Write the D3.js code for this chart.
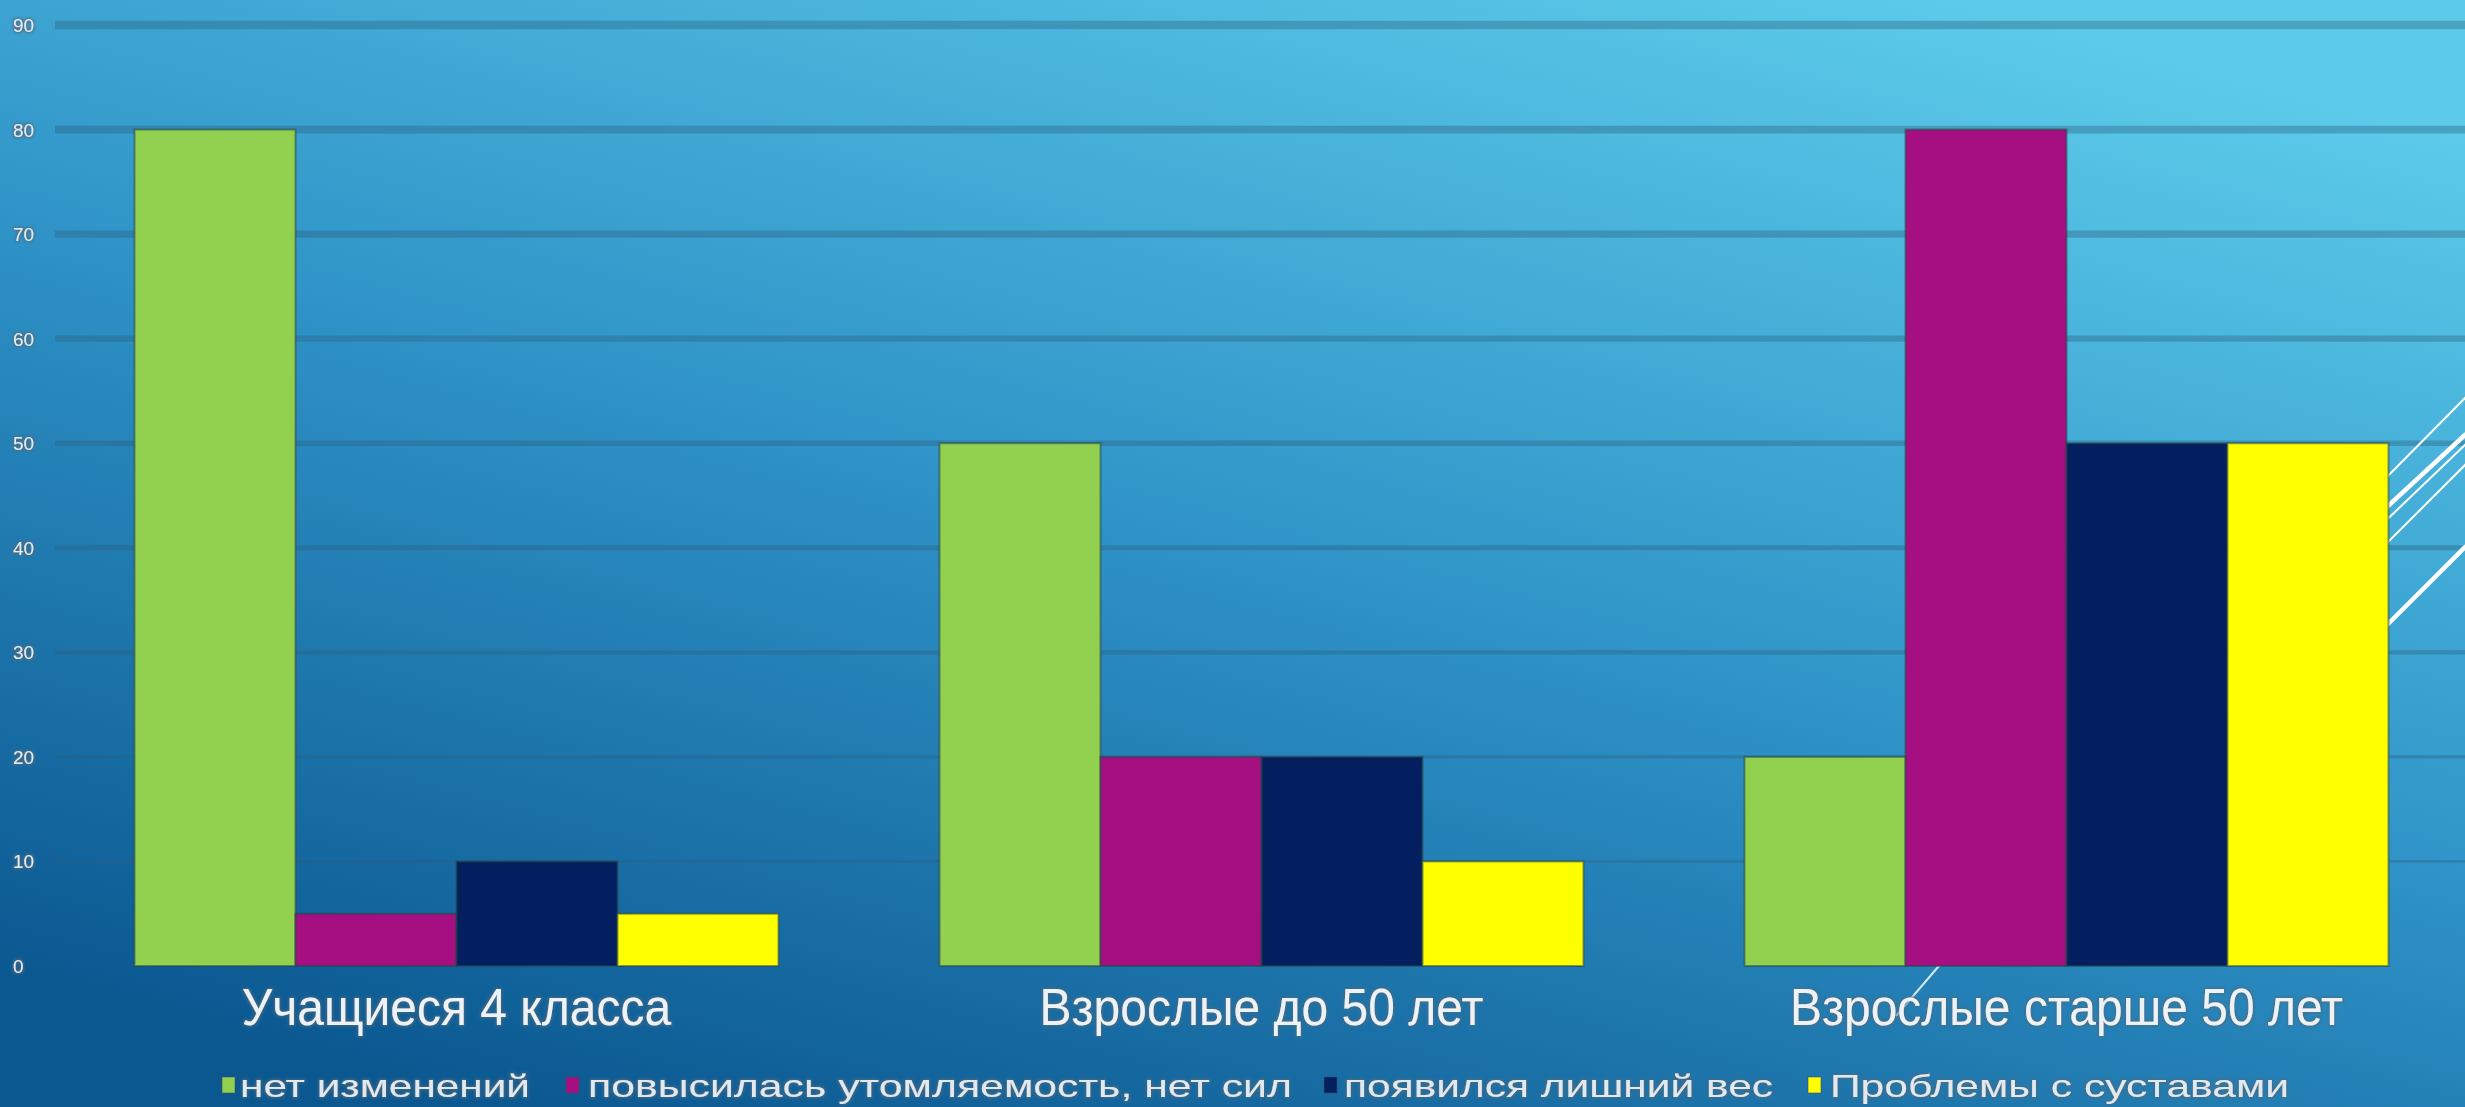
<!DOCTYPE html>
<html>
<head>
<meta charset="utf-8">
<script src="https://cdn.jsdelivr.net/npm/d3@7"></script>
<style>
  html, body { margin: 0; padding: 0; background: #2a8cc0; overflow: hidden; }
  svg { display: block; }
</style>
</head>
<body>
<svg id="chart" width="2465" height="1107"></svg>
<script>
// Survey groups and answer options
const categories = ["Учащиеся 4 класса", "Взрослые до 50 лет", "Взрослые старше 50 лет"];
const seriesNames = ["нет изменений", "повысилась утомляемость, нет сил", "появился лишний вес", "Проблемы с суставами"];

// Share of answers per group, %
const noChange = [80, 50, 20];
const fatigue  = [5, 20, 80];
const extraWeight = [10, 20, 50];
const jointIssues = [5, 10, 50];

const yTicks = [0, 10, 20, 30, 40, 50, 60, 70, 80, 90];
const seriesColors = ["#92d050", "#a50f82", "#041f5f", "#ffff00"];

const seriesValues = [noChange, fatigue, extraWeight, jointIssues];

const W = 2465, H = 1107;
const svg = d3.select("#chart");
const defs = svg.append("defs");

// slide background: dark blue bottom-left to light cyan top-right
const bg = defs.append("linearGradient").attr("id", "bg")
  .attr("x1", 0.2).attr("y1", 1).attr("x2", 0.8).attr("y2", 0);
bg.append("stop").attr("offset", 0).attr("stop-color", "#0b5891");
bg.append("stop").attr("offset", 0.5).attr("stop-color", "#2f93c7");
bg.append("stop").attr("offset", 1).attr("stop-color", "#5ccbea");

// soft grey halo behind the light text
const glow = defs.append("filter").attr("id", "glow")
  .attr("x", "-10%").attr("y", "-30%").attr("width", "120%").attr("height", "160%");
glow.append("feMorphology").attr("in", "SourceAlpha").attr("operator", "dilate").attr("radius", 1.2).attr("result", "d");
glow.append("feGaussianBlur").attr("in", "d").attr("stdDeviation", 1.4).attr("result", "b");
glow.append("feFlood").attr("flood-color", "#4d6a80").attr("flood-opacity", 0.85);
glow.append("feComposite").attr("in2", "b").attr("operator", "in").attr("result", "halo");
const gm = glow.append("feMerge");
gm.append("feMergeNode").attr("in", "halo");
gm.append("feMergeNode").attr("in", "SourceGraphic");

svg.append("rect").attr("width", W).attr("height", H).attr("fill", "url(#bg)");

// scales
const x0 = d3.scaleBand().domain(categories).range([54, 2469])
  .paddingInner(0.2).paddingOuter(0.1);
const x1 = d3.scaleBand().domain(d3.range(seriesNames.length)).range([0, x0.bandwidth()]);
const y = d3.scaleLinear().domain([0, 90]).range([966, 25]);

// horizontal gridlines
svg.append("g").selectAll("line")
  .data(yTicks.filter(d => d > 0))
  .join("line")
  .attr("x1", 55).attr("x2", W)
  .attr("y1", d => y(d)).attr("y2", d => y(d))
  .attr("stroke", "rgb(45,95,125)")
  .attr("stroke-opacity", 0.38)
  .attr("stroke-width", d => 2 + d * 0.072);

// decorative white strokes of the slide theme (partly hidden by the bars)
const deco = svg.append("g").attr("stroke", "#ffffff").attr("stroke-linecap", "butt");
[
  { a: [2375, 489], b: [2466, 397], w: 2 },
  { a: [2375, 518], b: [2466, 434], w: 4.5 },
  { a: [2375, 531], b: [2466, 444], w: 2 },
  { a: [2375, 555], b: [2466, 464], w: 2 },
  { a: [2375, 637], b: [2466, 546], w: 4.5 },
  { a: [1944, 960], b: [1896, 1016], w: 2 }
].forEach(s => {
  deco.append("line")
    .attr("x1", s.a[0]).attr("y1", s.a[1]).attr("x2", s.b[0]).attr("y2", s.b[1])
    .attr("stroke-width", s.w).attr("stroke-opacity", s.b[1] > 1000 ? 0.8 : 1);
});

// bars
const groups = svg.append("g").selectAll("g")
  .data(categories)
  .join("g")
  .attr("transform", d => `translate(${x0(d)},0)`);

groups.selectAll("rect")
  .data((c, ci) => seriesValues.map((vals, si) => ({ si, v: vals[ci] })))
  .join("rect")
  .attr("x", d => x1(d.si))
  .attr("width", x1.bandwidth())
  .attr("y", d => y(d.v))
  .attr("height", d => y(0) - y(d.v))
  .attr("fill", d => seriesColors[d.si])
  .attr("stroke", "rgba(40,70,70,0.55)")
  .attr("stroke-width", 2);

// y axis labels
svg.append("g").selectAll("text")
  .data(yTicks)
  .join("text")
  .attr("x", 13)
  .attr("y", d => y(d) + 7)
  .attr("fill", "#e4ebef")
  .attr("font-family", "'Liberation Sans', Arial, sans-serif")
  .attr("font-size", 19)
  .attr("filter", "url(#glow)")
  .text(d => d);

// category labels under each group: tall, slightly condensed lettering
const catLabels = svg.append("g").selectAll("text")
  .data(categories)
  .join("text")
  .attr("x", d => x0(d) + x0.bandwidth() / 2)
  .attr("y", 1025)
  .attr("text-anchor", "middle")
  .attr("fill", "#eef2f5")
  .attr("font-family", "'Liberation Sans', Arial, sans-serif")
  .attr("font-size", 48)
  .attr("filter", "url(#glow)")
  .text(d => d);
catLabels.each(function () {
  const len = this.getComputedTextLength();
  d3.select(this).attr("font-size", 52)
    .attr("textLength", len).attr("lengthAdjust", "spacingAndGlyphs");
});

// legend: swatch + label, each label stretched to its slot width
const legendSlots = [
  { sq: 222, tx: 240, w: 290 },
  { sq: 566, tx: 588, w: 704 },
  { sq: 1324, tx: 1344, w: 429 },
  { sq: 1808, tx: 1830, w: 459 }
];
const items = svg.append("g").selectAll("g")
  .data(seriesNames)
  .join("g");
items.append("rect")
  .attr("x", (d, i) => legendSlots[i].sq)
  .attr("y", 1077)
  .attr("width", 13).attr("height", 16)
  .attr("fill", (d, i) => seriesColors[i])
  .attr("stroke", "rgba(60,80,90,0.6)").attr("stroke-width", 1);
items.append("text")
  .attr("x", (d, i) => legendSlots[i].tx)
  .attr("y", 1097)
  .attr("fill", "#e2e9ee")
  .attr("font-family", "'Liberation Sans', Arial, sans-serif")
  .attr("font-size", 32)
  .attr("textLength", (d, i) => legendSlots[i].w)
  .attr("lengthAdjust", "spacingAndGlyphs")
  .attr("filter", "url(#glow)")
  .text(d => d);
</script>
</body>
</html>
